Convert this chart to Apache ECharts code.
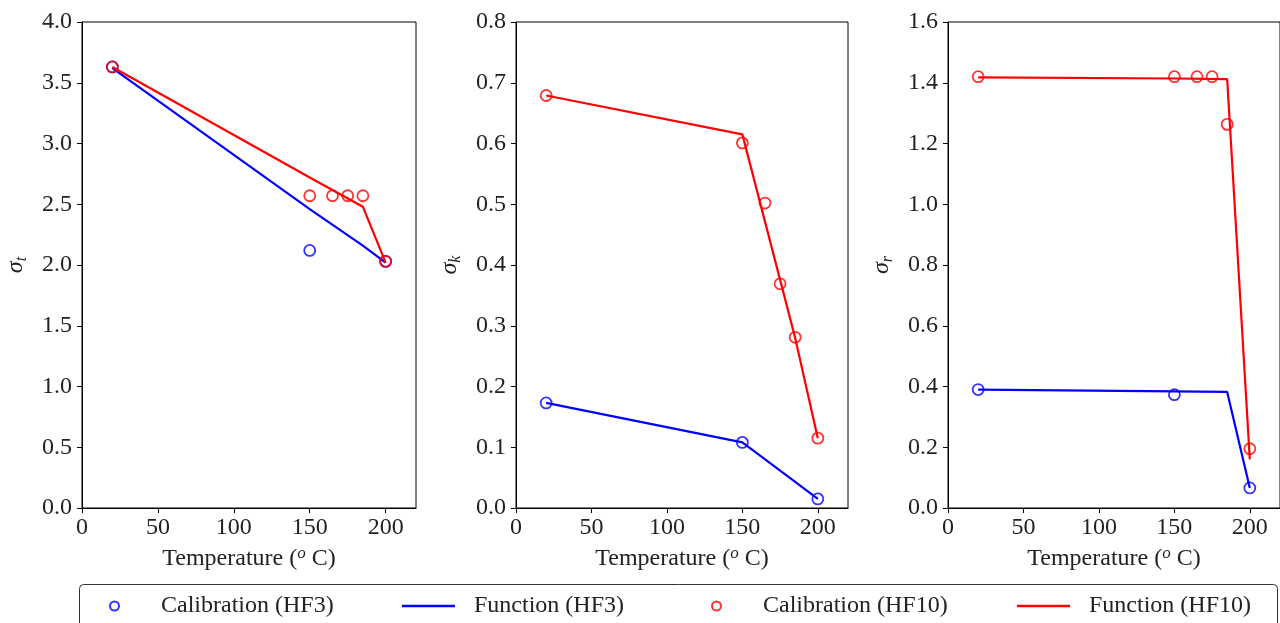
<!DOCTYPE html>
<html>
<head>
<meta charset="utf-8">
<script src="https://cdn.jsdelivr.net/npm/echarts@6/dist/echarts.min.js"></script>
<style>
  html, body { margin: 0; padding: 0; background: #fff; }
  #main { width: 1280px; height: 623px; }
</style>
</head>
<body>
<div id="main"></div>
<script>
// temperatures (deg C)
const tempHF3 = [20, 150, 200];
const tempHF10 = [20, 150, 165, 175, 185, 200];
const tempFunc = [20, 150, 185, 200];

// sigma_t
const sigmaT_calHF3 = [3.63, 2.12, 2.03];
const sigmaT_funHF3 = [3.62, 2.46, 2.16, 2.02];
const sigmaT_calHF10 = [3.63, 2.57, 2.57, 2.57, 2.57, 2.03];
const sigmaT_funHF10 = [3.63, 2.72, 2.48, 2.02];

// sigma_k
const sigmaK_calHF3 = [0.173, 0.108, 0.015];
const sigmaK_funHF3 = [0.173, 0.108, 0.043, 0.015];
const sigmaK_calHF10 = [0.679, 0.601, 0.502, 0.369, 0.281, 0.115];
const sigmaK_funHF10 = [0.679, 0.615, 0.28, 0.115];

// sigma_r
const sigmaR_calHF3 = [0.39, 0.373, 0.066];
const sigmaR_funHF3 = [0.39, 0.384, 0.382, 0.066];
const sigmaR_calHF10 = [1.42, 1.42, 1.42, 1.42, 1.263, 0.195];
const sigmaR_funHF10 = [1.418, 1.414, 1.412, 0.16];

const xTicks = [0, 50, 100, 150, 200];
const yLabels = ['t', 'k', 'r'];
const yMax = [4, 0.8, 1.6];
const yStep = [0.5, 0.1, 0.2];

const FONT = 'Liberation Serif';
const BLUE = '#0000ff';
const RED = '#ff0000';

let myChart = echarts.init(document.getElementById('main'));

function zip(xs, ys) {
    return xs.map((x, i) => [x, ys[i]]);
}

const grids = [
    { left: 82, top: 22, width: 334, height: 486 },
    { left: 516, top: 22, width: 332, height: 486 },
    { left: 948, top: 22, width: 333, height: 486 }
].map(g => Object.assign(g, { show: true, borderColor: '#000', borderWidth: 1 }));

const xAxes = grids.map((g, i) => ({
    type: 'value',
    gridIndex: i,
    min: 0,
    max: 220,
    interval: 50,
    splitLine: { show: false },
    axisLine: { onZero: false, lineStyle: { color: '#000', width: 1 } },
    axisTick: { length: 5, customValues: xTicks, lineStyle: { color: '#000' } },
    axisLabel: { customValues: xTicks, margin: 8, color: '#222', fontFamily: FONT, fontSize: 24 },
    name: '{n|Temperature (}{sup|o}{n| C)}',
    nameLocation: 'middle',
    nameGap: 26,
    nameTextStyle: {
        rich: {
            n: { fontFamily: FONT, fontSize: 24, color: '#222' },
            sup: { fontFamily: FONT, fontStyle: 'italic', fontSize: 17, color: '#222', padding: [0, 0, 10, 0] }
        }
    }
}));

const yAxes = grids.map((g, i) => ({
    type: 'value',
    gridIndex: i,
    min: 0,
    max: yMax[i],
    interval: yStep[i],
    splitLine: { show: false },
    axisLine: { show: true, lineStyle: { color: '#000', width: 1 } },
    axisTick: { show: true, length: 5, lineStyle: { color: '#000' } },
    axisLabel: {
        margin: 10,
        color: '#222',
        fontFamily: FONT,
        fontSize: 24,
        formatter: v => v.toFixed(1)
    },
    name: '{s|σ}{sub|' + yLabels[i] + '}',
    nameLocation: 'middle',
    nameRotate: 90,
    nameGap: 52,
    nameTextStyle: {
        rich: {
            s: { fontFamily: FONT, fontStyle: 'italic', fontSize: 24, color: '#222' },
            sub: { fontFamily: FONT, fontStyle: 'italic', fontSize: 16, color: '#222', padding: [12, 0, 0, 0] }
        }
    }
}));

const panels = [
    [sigmaT_calHF3, sigmaT_funHF3, sigmaT_calHF10, sigmaT_funHF10],
    [sigmaK_calHF3, sigmaK_funHF3, sigmaK_calHF10, sigmaK_funHF10],
    [sigmaR_calHF3, sigmaR_funHF3, sigmaR_calHF10, sigmaR_funHF10]
];

let series = [];
panels.forEach((p, i) => {
    series.push({
        name: 'Calibration (HF3)', type: 'scatter', xAxisIndex: i, yAxisIndex: i,
        symbol: 'circle', symbolSize: 11,
        itemStyle: { color: 'transparent', borderColor: BLUE, borderWidth: 1.8 },
        data: zip(tempHF3, p[0]), z: 3
    });
    series.push({
        name: 'Function (HF3)', type: 'line', xAxisIndex: i, yAxisIndex: i,
        symbol: 'none', color: BLUE,
        lineStyle: { color: BLUE, width: 2.2 },
        data: zip(tempFunc, p[1]), z: 4
    });
    series.push({
        name: 'Calibration (HF10)', type: 'scatter', xAxisIndex: i, yAxisIndex: i,
        symbol: 'circle', symbolSize: 11,
        itemStyle: { color: 'transparent', borderColor: RED, borderWidth: 1.8 },
        data: zip(tempHF10, p[2]), z: 5
    });
    series.push({
        name: 'Function (HF10)', type: 'line', xAxisIndex: i, yAxisIndex: i,
        symbol: 'none', color: RED,
        lineStyle: { color: RED, width: 2.2 },
        data: zip(tempFunc, p[3]), z: 6
    });
});

function legendItem(name, left, isLine, color) {
    return {
        id: 'lg_' + left,
        data: [isLine
            ? { name: name, icon: 'rect', itemStyle: { color: color, borderWidth: 0 } }
            : { name: name, icon: 'circle', itemStyle: { color: 'transparent', borderColor: color, borderWidth: 2 } }],
        left: left,
        top: 594,
        orient: 'horizontal',
        itemWidth: isLine ? 53 : 9,
        itemHeight: isLine ? 2.5 : 9,
        itemGap: 0,
        padding: 0,
        selectedMode: false,
        textStyle: {
            fontFamily: FONT,
            fontSize: 24,
            color: '#222',
            padding: [0, 0, 0, isLine ? 14 : 37]
        }
    };
}

let option = {
    animation: false,
    backgroundColor: '#fff',
    grid: grids,
    xAxis: xAxes,
    yAxis: yAxes,
    legend: [
        legendItem('Calibration (HF3)', 109, false, BLUE),
        legendItem('Function (HF3)', 402, true, BLUE),
        legendItem('Calibration (HF10)', 711, false, RED),
        legendItem('Function (HF10)', 1017, true, RED)
    ],
    graphic: [{
        type: 'rect',
        shape: { x: 79.5, y: 584.5, width: 1198, height: 50, r: 4 },
        style: { fill: 'none', stroke: '#333', lineWidth: 1 },
        z: -1
    }],
    series: series
};

myChart.setOption(option);
</script>
</body>
</html>
